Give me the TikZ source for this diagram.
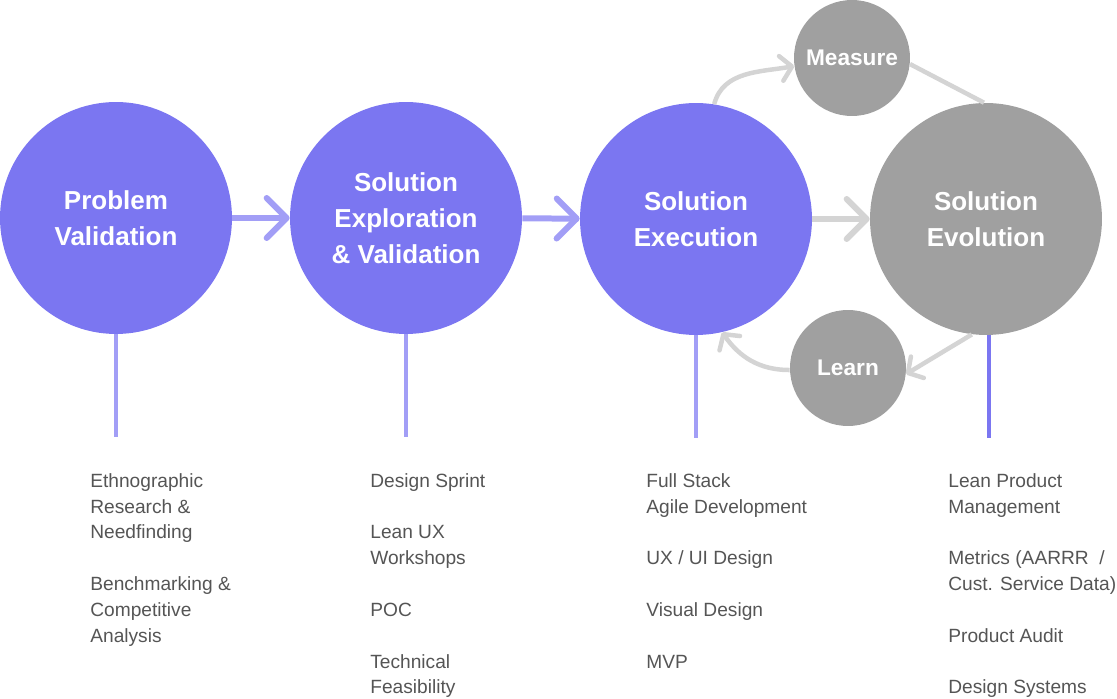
\documentclass[tikz,border=0pt]{standalone}
\usepackage{fontspec}
\setmainfont{Liberation Sans}
\usetikzlibrary{positioning, arrows.meta}

\definecolor{phasefill}{HTML}{7B76F1}
\definecolor{phaseline}{HTML}{A29EF6}
\definecolor{loopfill}{HTML}{A0A0A0}
\definecolor{loopline}{HTML}{D4D4D4}
\definecolor{listtext}{HTML}{555555}

\begin{document}
\begin{tikzpicture}
            [x=0.02cm, y=0.02cm,
            phase/.style={
                circle,
                fill=phasefill,
                text=white,
                font=\fontsize{14.8}{20.5}\selectfont\bfseries,
                align=center,
                inner sep=0pt,
                minimum size=4.64cm
            },
            loopstep/.style={
                phase,
                fill=loopfill,
                font=\fontsize{12.9}{15}\selectfont\bfseries,
                minimum size=2.32cm
            },
            flow/.style={
                draw=phaseline, line width=0.12cm,
                -{Straight Barb[round, length=0.4cm, width=0.8cm]}
            },
            loopflow/.style={
                draw=loopline, line width=0.09cm,
                -{Straight Barb[round, length=0.22cm, width=0.5cm]}
            },
            stem/.style={
                draw=phaseline, line width=0.08cm
            },
            itemlist/.style={
                anchor=north west,
                inner sep=0pt,
                align=left,
                text=listtext,
                font=\fontsize{10.9}{14.7}\selectfont
            }
            ]

            \useasboundingbox (0,0) rectangle (1117,-699);

            % Phase circles
            \node[phase] (problem) at (116,-218) {Problem\\Validation};
            \node[phase] (explore) at (406,-218) {Solution\\Exploration\\\& Validation};
            \node[phase] (execute) at (696,-219) {Solution\\Execution};
            \node[phase, fill=loopfill] (evolve) at (986,-219) {Solution\\Evolution};

            % Build / measure / learn loop
            \node[loopstep] (measure) at (852,-58) {Measure};
            \node[loopstep] (learn) at (848,-368) {Learn};

            \path [flow] (problem) -- (explore);
            \path [flow] (explore) -- (execute);
            \path [flow, draw=loopline] (execute) -- (evolve);

            \path [loopflow] (execute.81) to[out=75, in=190] (measure.188);
            \path [loopflow, -] (measure.-6) -- (evolve.91);
            \path [loopflow] (evolve.-97) -- (learn.-6);
            \path [loopflow] (learn.182) to[out=180, in=-55] (execute.-77);

            % Stems down to the lists
            \foreach \phase in {problem, explore, execute}{
                \path [stem] (\phase.south) -- ++(0,-103);
            }
            \path [stem, draw=phasefill] (evolve.south) ++(3,0) -- ++(0,-103);

            % Activity lists
            \node[itemlist] (problemlist) at (90,-473)
                {Ethnographic\\Research \&\\Needfinding\\[14.7pt]Benchmarking \&\\Competitive\\Analysis};
            \node[itemlist] (explorelist) at (370,-473)
                {Design Sprint\\[14.7pt]Lean UX\\Workshops\\[14.7pt]POC\\[14.7pt]Technical\\Feasibility};
            \node[itemlist] (executelist) at (646,-473)
                {Full Stack\\Agile Development\\[14.7pt]UX / UI Design\\[14.7pt]Visual Design\\[14.7pt]MVP};
            \node[itemlist] (evolvelist) at (948,-473)
                {Lean Product\\Management\\[14.7pt]Metrics (AARRR~ /\\Cust. Service Data)\\[14.7pt]Product Audit\\[14.7pt]Design Systems};
\end{tikzpicture}
\end{document}
